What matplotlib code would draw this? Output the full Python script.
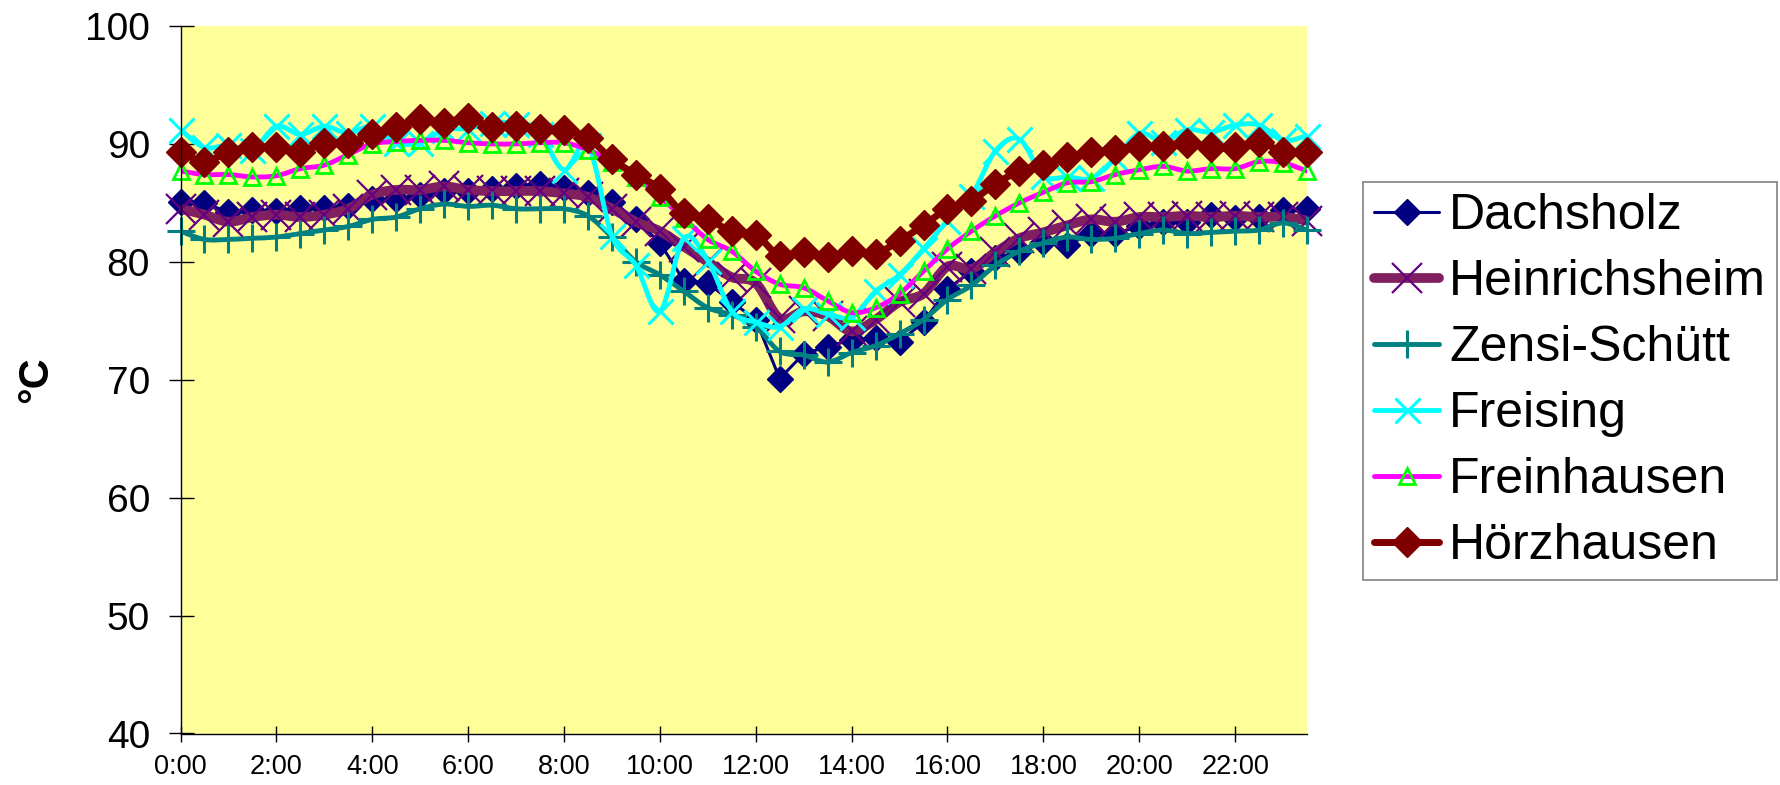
import numpy as np
import matplotlib
matplotlib.use('Agg')
import matplotlib.pyplot as plt
from matplotlib.path import Path
from matplotlib.patches import PathPatch
from matplotlib.lines import Line2D

plt.rcParams['font.family'] = ['Liberation Sans', 'DejaVu Sans']

# half-hour readings 0:00 .. 23:30
tick_labels = ['0:00', '2:00', '4:00', '6:00', '8:00', '10:00',
               '12:00', '14:00', '16:00', '18:00', '20:00', '22:00']

dachsholz = [85.1, 85.0, 84.2, 84.4, 84.3, 84.6, 84.6, 84.7, 85.3, 85.3, 85.7, 86.0,
             86.0, 86.2, 86.4, 86.6, 86.3, 85.8, 85.1, 83.6, 81.6, 78.4, 78.2, 76.6,
             75.1, 70.1, 72.2, 72.8, 73.4, 73.5, 73.2, 74.9, 77.7, 79.2, 80.3, 80.9,
             81.7, 81.4, 82.4, 82.4, 83.0, 83.4, 83.4, 84.0, 83.7, 83.8, 84.4, 84.5]
heinrichsheim = [84.5, 84.0, 83.4, 83.8, 84.0, 83.8, 84.0, 84.5, 85.7, 86.1, 86.1, 86.4,
                 86.1, 86.0, 86.0, 86.0, 85.8, 85.5, 84.5, 83.4, 82.6, 81.3, 80.0, 78.7,
                 78.2, 75.2, 75.8, 75.4, 74.1, 75.1, 76.6, 77.3, 79.6, 79.4, 80.8, 82.0,
                 82.5, 83.1, 83.6, 83.4, 83.8, 83.8, 83.9, 83.8, 83.9, 83.8, 83.8, 83.5]
zensi = [82.6, 81.9, 81.9, 82.0, 82.1, 82.4, 82.7, 83.0, 83.6, 83.8, 84.5, 84.9,
         84.7, 84.8, 84.5, 84.5, 84.5, 83.9, 82.1, 80.0, 78.9, 77.5, 76.1, 75.5,
         74.5, 72.4, 72.1, 71.5, 72.3, 72.9, 73.9, 75.1, 76.8, 78.0, 79.7, 80.9,
         81.6, 82.1, 81.9, 82.0, 82.4, 82.7, 82.4, 82.5, 82.6, 82.7, 83.3, 82.7]
freising = [91.2, 89.7, 89.9, 89.5, 91.5, 90.8, 91.5, 90.9, 91.5, 90.1, 90.1, 91.2,
            91.3, 91.8, 91.7, 90.8, 87.8, 89.9, 82.2, 79.7, 75.8, 82.0, 80.1, 75.8,
            74.9, 74.5, 76.0, 75.6, 75.3, 77.5, 78.9, 81.1, 83.5, 85.6, 89.4, 90.4,
            87.3, 87.2, 87.1, 88.8, 90.9, 90.2, 91.2, 91.0, 91.6, 91.6, 90.3, 90.7]
freinhausen = [87.7, 87.4, 87.4, 87.2, 87.3, 87.9, 88.2, 89.1, 90.0, 90.2, 90.3, 90.3,
               90.1, 90.0, 90.0, 90.1, 90.1, 89.5, 88.5, 87.2, 85.5, 83.7, 81.9, 80.9,
               79.2, 78.1, 77.8, 76.7, 75.7, 76.1, 77.3, 79.2, 81.1, 82.6, 83.9, 85.0,
               85.9, 86.7, 86.8, 87.4, 87.8, 88.1, 87.7, 87.9, 87.9, 88.5, 88.4, 87.7]
hoerzhausen = [89.3, 88.5, 89.3, 89.7, 89.7, 89.3, 90.1, 90.1, 90.8, 91.4, 92.1, 91.8,
               92.2, 91.4, 91.5, 91.3, 91.2, 90.5, 88.7, 87.4, 86.2, 84.1, 83.6, 82.6,
               82.3, 80.5, 80.8, 80.4, 80.9, 80.7, 81.8, 83.1, 84.5, 85.2, 86.6, 87.7,
               88.2, 88.9, 89.3, 89.5, 89.8, 89.8, 90.1, 89.7, 89.7, 90.2, 89.3, 89.3]

series = [
    ('Dachsholz', dachsholz, dict(color='#000080', lw=2.2, smooth=False, marker='D', ms=13,
                                  mfc='#000080', mec='#000080', mew=1)),
    ('Heinrichsheim', heinrichsheim, dict(color='#802060', lw=7, smooth=True, marker='x', ms=22,
                                          mfc='#660080', mec='#660080', mew=1.6)),
    ('Zensi-Schütt', zensi, dict(color='#008080', lw=3.5, smooth=True, marker='+', ms=20,
                                 mfc='#008080', mec='#008080', mew=2.2)),
    ('Freising', freising, dict(color='#00FFFF', lw=3.5, smooth=True, marker='x', ms=18,
                                mfc='#00FFFF', mec='#00FFFF', mew=2.2)),
    ('Freinhausen', freinhausen, dict(color='#FF00FF', lw=3.5, smooth=True, marker='^', ms=11,
                                      mfc='none', mec='#00FF00', mew=2)),
    ('Hörzhausen', hoerzhausen, dict(color='#800000', lw=5, smooth=True, marker='D', ms=15,
                                     mfc='#800000', mec='#800000', mew=1)),
]


def curve(x, y, smooth):
    # excel-like bezier smoothing through the points
    verts = [(x[0], y[0])]
    codes = [Path.MOVETO]
    n = len(x)
    for k in range(n - 1):
        if not smooth:
            verts.append((x[k + 1], y[k + 1]))
            codes.append(Path.LINETO)
            continue
        a = max(k - 1, 0)
        b = min(k + 2, n - 1)
        c1 = (x[k] + (x[k + 1] - x[a]) / 6, y[k] + (y[k + 1] - y[a]) / 6)
        c2 = (x[k + 1] - (x[b] - x[k]) / 6, y[k + 1] - (y[b] - y[k]) / 6)
        verts += [c1, c2, (x[k + 1], y[k + 1])]
        codes += [Path.CURVE4] * 3
    return Path(verts, codes)


fig = plt.figure(figsize=(17.8, 7.85), dpi=100)
ax = fig.add_axes([180.5 / 1780, 1 - 733.5 / 785, (1307 - 180.5) / 1780, (733.5 - 26) / 785])
ax.set_facecolor('#FFFF99')

x = np.arange(len(dachsholz))
handles = []
for i, (name, vals, st) in enumerate(series):
    y = np.array(vals)
    p = PathPatch(curve(x, y, st['smooth']), facecolor='none', edgecolor=st['color'],
                  lw=st['lw'], capstyle='round', joinstyle='round', zorder=3 + i)
    ax.add_patch(p)
    ax.plot(x, y, ls='none', marker=st['marker'], ms=st['ms'], mfc=st['mfc'],
            mec=st['mec'], mew=st['mew'], clip_on=False, zorder=3 + i)
    handles.append(Line2D([], [], color=st['color'], lw=st['lw'], solid_capstyle='round',
                          marker=st['marker'], ms=st['ms'], mfc=st['mfc'], mec=st['mec'],
                          mew=st['mew']))

ax.set_xlim(0, 47)
ax.set_ylim(40, 100)
for s in ['top', 'right']:
    ax.spines[s].set_visible(False)
for s in ['left', 'bottom']:
    ax.spines[s].set_linewidth(1)
    ax.spines[s].set_zorder(20)

ax.set_yticks(range(40, 101, 10))
ax.tick_params(axis='y', direction='inout', length=18, width=1, labelsize=28, pad=13)
ax.set_xticks(np.arange(0, 48, 4))
ax.set_xticklabels(tick_labels, family=['Liberation Sans Narrow', 'Liberation Sans'])
ax.tick_params(axis='x', direction='inout', length=12, width=1, labelsize=19.5, pad=9)

fig.text(36 / 1780, 1 - 380 / 785, '°C', rotation=90, fontsize=30, fontweight='bold',
         ha='center', va='center')

leg = fig.legend(handles, [s[0] for s in series], loc='upper left',
                 bbox_to_anchor=(1363 / 1780, 1 - 182 / 785), fontsize=36,
                 frameon=True, fancybox=False, edgecolor='#808080', framealpha=1,
                 borderpad=0.22, handlelength=1.3, handletextpad=0.2, labelspacing=0.40,
                 borderaxespad=0)
leg.get_frame().set_linewidth(1.2)

fig.savefig('out.png', dpi=100, facecolor='white')
